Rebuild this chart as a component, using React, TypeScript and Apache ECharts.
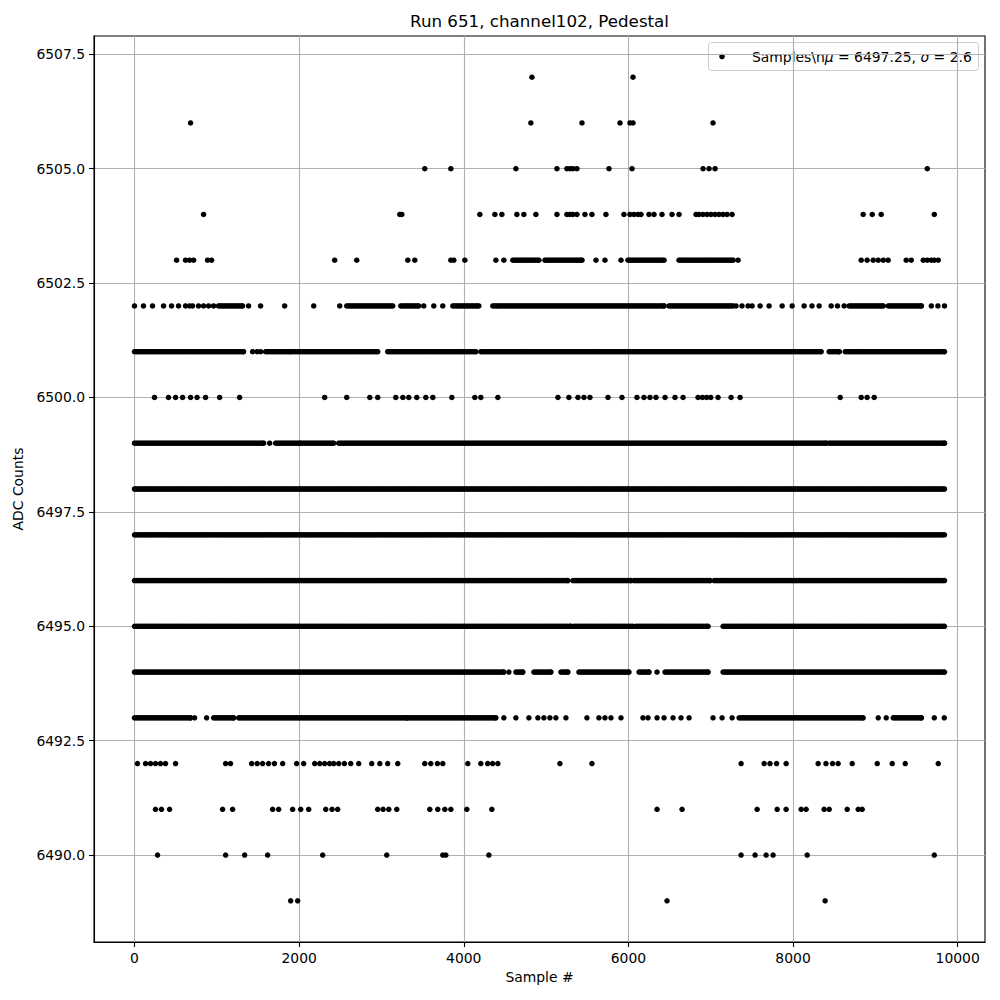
import React, { useEffect, useRef } from "react";
import * as echarts from "echarts";

// ---- axis settings ----
const xMin = -492;
const xMax = 10332;
const yMin = 6488.1;
const yMax = 6507.9;
const xTicks = [0, 2000, 4000, 6000, 8000, 10000];
const yTicks = [6490, 6492.5, 6495, 6497.5, 6500, 6502.5, 6505, 6507.5];

const titleText = "Run 651, channel102, Pedestal";
const xName = "Sample #";
const yName = "ADC Counts";
const seriesName = "Samples\\nμ = 6497.25, σ = 2.6";

// ---- data: isolated samples (sample #) per ADC level ----
const pts6507 = [4828, 6056];
const pts6506 = [681, 4815, 5436, 5898, 6019, 6056, 7028];
const pts6505 = [3526, 3843, 4633, 5132, 5253, 5290, 5326, 5375, 5764, 6044, 6907, 6980, 7053, 9631];
const pts6504 = [839, 3223, 3247, 4195, 4378, 4463, 4645, 4730, 4876, 5132, 5253, 5290, 5326, 5375, 5472, 5557, 5727, 5946, 6019, 6068, 6117, 6153, 6250, 6311, 6408, 6530, 6615, 6822, 6858, 6907, 6956, 7004, 7053, 7101, 7150, 7199, 7260, 8852, 8962, 9071, 9716];
const pts6503 = [511, 620, 669, 718, 888, 936, 2432, 2700, 3320, 3405, 3843, 3879, 4013, 4390, 4487, 5606, 5715, 5910, 7332, 8828, 8900, 8974, 9035, 9096, 9156, 9375, 9436, 9582, 9630, 9680, 9716, 9764];
const pts6502 = [0, 109, 219, 353, 450, 535, 620, 669, 705, 778, 839, 900, 961, 1386, 1532, 1824, 2177, 2493, 3514, 3636, 3745, 7308, 7380, 7454, 7503, 7600, 7709, 7868, 7989, 8135, 8230, 8317, 8463, 8540, 8621, 9680, 9760, 9840];
const pts6501 = [1435, 1490, 1532];
const pts6500 = [243, 413, 499, 584, 681, 760, 863, 1034, 1277, 2310, 2578, 2858, 2955, 3174, 3260, 3332, 3429, 3539, 3624, 3855, 4134, 4207, 4414, 5144, 5277, 5387, 5460, 5533, 5752, 5922, 6104, 6189, 6262, 6335, 6445, 6566, 6664, 6846, 6900, 6950, 7000, 7089, 7247, 7357, 8573, 8828, 8900, 8986];
const pts6499 = [1642];
const pts6494 = [4548, 6348];
const pts6493 = [730, 876, 3308, 4487, 4633, 4791, 4900, 4973, 5046, 5119, 5241, 5496, 5642, 5715, 5788, 5910, 6177, 6238, 6348, 6433, 6542, 6639, 6737, 7028, 7138, 7260, 9035, 9132, 9716, 9837];
const pts6492 = [36, 134, 195, 255, 316, 377, 499, 1107, 1167, 1423, 1490, 1556, 1629, 1700, 1800, 1970, 2055, 2189, 2250, 2310, 2370, 2420, 2481, 2550, 2627, 2724, 2882, 2980, 3076, 3198, 3526, 3599, 3680, 3745, 4049, 4207, 4290, 4350, 4414, 5168, 5557, 7369, 7649, 7720, 7800, 7916, 8305, 8400, 8480, 8548, 8719, 9023, 9205, 9363, 9764];
const pts6491 = [255, 328, 426, 1070, 1192, 1678, 1751, 1921, 2019, 2116, 2323, 2400, 2468, 2955, 3020, 3089, 3186, 3587, 3684, 3770, 3843, 4037, 4341, 6348, 6652, 7564, 7807, 7916, 8099, 8159, 8378, 8439, 8658, 8792, 8840];
const pts6490 = [280, 1107, 1338, 1617, 2286, 3064, 3745, 3782, 4305, 7369, 7539, 7673, 7758, 8172, 9716];
const pts6489 = [1897, 1982, 6469, 8390];

// ---- data: continuous stretches [first, last sample #] per ADC level ----
const runs6503 = [[4596, 4913], [4986, 5436], [5995, 6433], [6615, 7272]];
const runs6502 = [[1021, 1313], [2578, 3137], [3235, 3453], [3867, 4183], [4353, 4426], [4450, 6433], [6493, 7272], [8682, 9096], [9156, 9558]];
const runs6501 = [[0, 1325], [1593, 1897], [1921, 2955], [3076, 4147], [4207, 8342], [8439, 8561], [8634, 9840]];
const runs6499 = [[0, 1569], [1715, 2019], [2043, 2420], [2481, 8403], [8439, 9840]];
const runs6498 = [[0, 9840]];
const runs6497 = [[0, 9840]];
const runs6496 = [[0, 5265], [5326, 6031], [6068, 6992], [7041, 9840]];
const runs6495 = [[0, 5302], [5338, 6056], [6092, 6968], [7150, 9840]];
const runs6494 = [[0, 4487], [4633, 4718], [4852, 5059], [5180, 5265], [5399, 6007], [6129, 6250], [6445, 6968], [7150, 9840]];
const runs6493 = [[0, 681], [961, 1204], [1265, 4390], [7345, 8852], [9217, 9558]];

const levelPoints: [number, number[]][] = [
  [6507, pts6507], [6506, pts6506], [6505, pts6505], [6504, pts6504], [6503, pts6503],
  [6502, pts6502], [6501, pts6501], [6500, pts6500], [6499, pts6499], [6494, pts6494],
  [6493, pts6493], [6492, pts6492], [6491, pts6491], [6490, pts6490], [6489, pts6489],
];
const levelRuns: [number, number[][]][] = [
  [6503, runs6503], [6502, runs6502], [6501, runs6501], [6499, runs6499], [6498, runs6498],
  [6497, runs6497], [6496, runs6496], [6495, runs6495], [6494, runs6494], [6493, runs6493],
];

const RUN_STEP = 20;

function buildData(): number[][] {
  const out: number[][] = [];
  for (const [lvl, arr] of levelPoints) for (const s of arr) out.push([s, lvl]);
  for (const [lvl, runs] of levelRuns) {
    for (const [a, b] of runs) {
      for (let s = a; s < b; s += RUN_STEP) out.push([s, lvl]);
      out.push([b, lvl]);
    }
  }
  return out;
}

const FONT = "DejaVu Sans";

export default function App() {
  const ref = useRef<HTMLDivElement>(null);
  useEffect(() => {
    document.body.style.margin = "0";
    if (!ref.current) return;
    const chart = echarts.init(ref.current, undefined, { renderer: "svg" });
    const gridLeft = 94, gridRight = 15, gridTop = 36, gridBottom = 58;
    const axesCenterX = gridLeft + (1000 - gridLeft - gridRight) / 2;
    chart.setOption({
      animation: false,
      backgroundColor: "#ffffff",
      textStyle: { fontFamily: FONT },
      grid: {
        left: gridLeft, right: gridRight, top: gridTop, bottom: gridBottom,
        show: true, borderColor: "#000000", borderWidth: 1.1, backgroundColor: "transparent",
      },
      xAxis: {
        type: "value", min: xMin, max: xMax,
        name: xName, nameLocation: "middle", nameGap: 27,
        nameTextStyle: { color: "#000", fontSize: 13.9, fontFamily: FONT },
        axisLine: { show: true, onZero: false, lineStyle: { color: "#000", width: 1.1 } },
        axisTick: { show: true, inside: false, length: 5, lineStyle: { color: "#000", width: 1.1 }, customValues: xTicks },
        axisLabel: { color: "#000", fontSize: 13.9, fontFamily: FONT, margin: 9, customValues: xTicks, formatter: (v: number) => String(v) },
        splitLine: { show: true, lineStyle: { color: "#b0b0b0", width: 1.1 } },
      },
      yAxis: {
        type: "value", min: yMin, max: yMax,
        name: yName, nameLocation: "middle", nameGap: 66,
        nameTextStyle: { color: "#000", fontSize: 13.9, fontFamily: FONT },
        axisLine: { show: true, onZero: false, lineStyle: { color: "#000", width: 1.1 } },
        axisTick: { show: true, inside: false, length: 5, lineStyle: { color: "#000", width: 1.1 }, customValues: yTicks },
        axisLabel: { color: "#000", fontSize: 13.9, fontFamily: FONT, margin: 9, customValues: yTicks, formatter: (v: number) => v.toFixed(1) },
        splitLine: { show: true, lineStyle: { color: "#b0b0b0", width: 1.1 } },
      },
      series: [
        {
          type: "scatter",
          name: seriesName,
          data: buildData(),
          symbol: "circle",
          symbolSize: 5.5,
          itemStyle: { color: "#000000", opacity: 1 },
          emphasis: { disabled: true },
          silent: true,
        },
      ],
      graphic: [
        {
          type: "text", x: axesCenterX, y: 21, z: 10,
          style: { text: titleText, fill: "#000", font: `16.7px "${FONT}"`, textAlign: "center", textVerticalAlign: "middle" },
        },
        {
          type: "group", z: 20,
          children: [
            {
              type: "rect", shape: { x: 708.5, y: 42.5, width: 270, height: 28, r: 3 },
              style: { fill: "rgba(255,255,255,0.8)", stroke: "#cccccc", lineWidth: 1 },
            },
            { type: "circle", shape: { cx: 722, cy: 56.5, r: 2.75 }, style: { fill: "#000" } },
            {
              type: "text", x: 752, y: 56.5,
              style: {
                text: "{n|Samples\\n}{i|μ}{n| = 6497.25, }{i|σ}{n| = 2.6}",
                textVerticalAlign: "middle", textAlign: "left",
                rich: {
                  n: { fontFamily: FONT, fontSize: 13.9, fill: "#000", color: "#000" },
                  i: { fontFamily: FONT, fontSize: 13.9, fontStyle: "italic", fill: "#000", color: "#000" },
                },
              },
            },
          ],
        },
      ],
    });
    return () => chart.dispose();
  }, []);
  return <div ref={ref} style={{ width: 1000, height: 1000 }} />;
}
